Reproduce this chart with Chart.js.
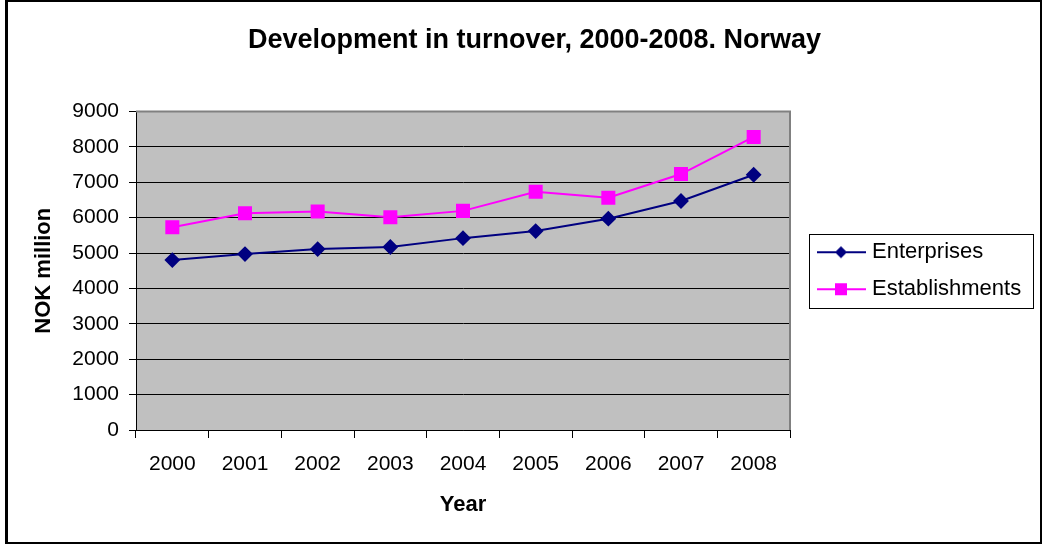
<!DOCTYPE html>
<html>
<head>
<meta charset="utf-8">
<script src="https://cdn.jsdelivr.net/npm/chart.js@4"></script>
<style>
	body{ margin:0; background:#fff; }
	#wrap{ position:relative; width:1042px; height:544px; }
	#frame{ position:absolute; left:5px; top:0; width:1037px; height:544px; box-sizing:border-box; border:2px solid #000; border-left-width:3px; pointer-events:none; }
	canvas{ position:absolute; left:0; top:0; }
</style>
</head>
<body>
<div id="wrap">
	<canvas id="chart" width="1042" height="544"></canvas>
	<div id="frame"></div>
</div>
<script>
		// data
		const years = ['2000','2001','2002','2003','2004','2005','2006','2007','2008']
		const enterprises = [4800, 4970, 5110, 5170, 5420, 5620, 5970, 6470, 7210]
		const establishments = [5730, 6120, 6170, 6010, 6190, 6730, 6560, 7230, 8280]
		const yTicks = [0, 1000, 2000, 3000, 4000, 5000, 6000, 7000, 8000, 9000]

		const FONT = 'Liberation Sans, Arial, sans-serif'

		// legend symbol: a short line with the marker on it
		function legendIcon(color , shape){
			let c = document.createElement('canvas')
			c.width = 72
			c.height = 16
			let ctx = c.getContext('2d')
			ctx.strokeStyle = color
			ctx.lineWidth = 2
			ctx.beginPath()
			ctx.moveTo(20, 8)
			ctx.lineTo(69, 8)
			ctx.stroke()
			ctx.fillStyle = color
			ctx.beginPath()
			if(shape == 'diamond'){
				ctx.moveTo(44, 2); ctx.lineTo(50, 8); ctx.lineTo(44, 14); ctx.lineTo(38, 8)
				ctx.closePath()
			}else{
				ctx.rect(38, 2, 12, 12)
			}
			ctx.fill()
			return c
		}

		const plotBackground = {
			id:'plotBackground',
			beforeDraw(chart){
				let a = chart.chartArea
				let ctx = chart.ctx
				ctx.save()
				ctx.fillStyle = '#C0C0C0'
				ctx.fillRect(a.left, a.top, a.right - a.left, a.bottom - a.top)
				ctx.restore()
			},
			afterDatasetsDraw(chart){
				let a = chart.chartArea
				let ctx = chart.ctx
				ctx.save()
				ctx.strokeStyle = '#808080'
				ctx.lineWidth = 2
				ctx.beginPath()
				ctx.moveTo(a.left, a.top)
				ctx.lineTo(a.right, a.top)
				ctx.lineTo(a.right, a.bottom)
				ctx.stroke()
				ctx.restore()
			}
		}

		const legendFrame = {
			id:'legendFrame',
			beforeLayout(chart){
				let lg = chart.legend
				if(lg && !lg._fixed){
					let fit = lg.fit.bind(lg)
					lg.fit = function(){ fit(); this.width = 252 }
					lg._fixed = true
				}
			},
			afterDraw(chart){
				let lg = chart.legend
				let hb = lg.legendHitBoxes
				if(!hb || !hb.length) return
				let ctx = chart.ctx
				let top = hb[0].top - 7
				let last = hb[hb.length - 1]
				let bottom = last.top + last.height + 8
				ctx.save()
				ctx.strokeStyle = '#000'
				ctx.lineWidth = 1
				ctx.strokeRect(lg.left + 19.5, Math.round(top) + 0.5, 224, Math.round(bottom - top))
				ctx.restore()
			}
		}

		new Chart(document.getElementById('chart'), {
			type:'line',
			data:{
				labels: years,
				datasets:[{
					label:'Enterprises',
					data: enterprises,
					borderColor:'#000080',
					backgroundColor:'#000080',
					borderWidth:2,
					pointStyle:'rectRot',
					pointRadius:6.5,
					pointHoverRadius:6.5,
					tension:0,
					fill:false
				},{
					label:'Establishments',
					data: establishments,
					borderColor:'#FF00FF',
					backgroundColor:'#FF00FF',
					borderWidth:2,
					pointStyle:'rect',
					pointRadius:8.5,
					pointHoverRadius:8.5,
					tension:0,
					fill:false
				}]
			},
			options:{
				responsive:false,
				animation:false,
				layout:{ padding:{ left:27, top:6, right:0, bottom:22 } },
				plugins:{
					title:{
						display:true,
						text:'Development in turnover, 2000-2008. Norway',
						color:'#000',
						font:{ family:FONT, size:27, weight:'bold' },
						padding:{ top:18, bottom:55 }
					},
					legend:{
						position:'right',
						fullSize:false,
						labels:{
							color:'#000',
							font:{ family:FONT, size:22 },
							usePointStyle:true,
							pointStyleWidth:56,
							padding:15,
							generateLabels(chart){
								return chart.data.datasets.map((ds , i)=>({
									text: ds.label,
									pointStyle: legendIcon(ds.borderColor, i == 0 ? 'diamond' : 'square'),
									fillStyle: ds.borderColor,
									strokeStyle: ds.borderColor,
									lineWidth:0,
									hidden:false,
									datasetIndex:i,
									fontColor:'#000'
								}))
							}
						}
					},
					tooltip:{ enabled:false }
				},
				scales:{
					x:{
						offset:true,
						afterFit(scale){ scale.height = 544 - 430 - 22 },
						grid:{ offset:true, drawOnChartArea:false, drawTicks:true, tickLength:8, color:'#000', tickColor:'#000' },
						border:{ display:true, color:'#000', width:1 },
						ticks:{ color:'#000', font:{ family:FONT, size:21 }, padding:14, maxRotation:0 },
						title:{ display:true, text:'Year', color:'#000', font:{ family:FONT, size:22, weight:'bold' }, padding:{ top:4, bottom:4 } }
					},
					y:{
						min:0,
						max:9000,
						afterFit(scale){ scale.width = 136 - 27 },
						afterBuildTicks(scale){ scale.ticks = yTicks.map(v => ({ value:v })) },
						grid:{ color:'#000', lineWidth:1, drawTicks:true, tickLength:7, tickColor:'#000' },
						border:{ display:true, color:'#000', width:1 },
						ticks:{ color:'#000', font:{ family:FONT, size:21 }, padding:10, callback:(v)=> String(v) },
						title:{ display:true, text:'NOK million', color:'#000', font:{ family:FONT, size:22, weight:'bold' }, padding:{ top:4, bottom:4 } }
					}
				}
			},
			plugins:[ plotBackground , legendFrame ]
		})
</script>
</body>
</html>
